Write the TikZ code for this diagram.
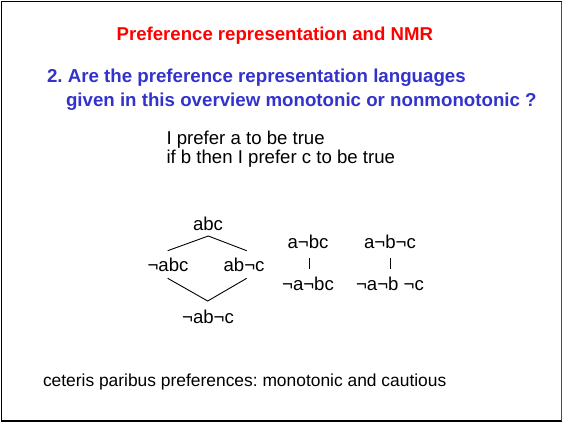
\documentclass[tikz,border=0pt]{standalone}
\usepackage{fontspec}
\setmainfont{Liberation Sans}
\frenchspacing
\definecolor{titlered}{RGB}{255,0,0}
\definecolor{qblue}{RGB}{51,51,204}
\begin{document}
\begin{tikzpicture}[x=1pt,y=-1pt,
  every node/.style={inner sep=0pt,outer sep=0pt},
  titletxt/.style={font=\fontsize{18.6}{22}\selectfont\bfseries,text=titlered},
  qtxt/.style={font=\fontsize{18.7}{22}\selectfont\bfseries,text=qblue},
  bodytxt/.style={font=\fontsize{18.6}{22}\selectfont},
  foottxt/.style={font=\fontsize{17.4}{21}\selectfont},
  edge/.style={line width=0.9pt}]
\useasboundingbox (0,0) rectangle (563,424);
\fill[white] (0,0) rectangle (563,424);
\draw[line width=1.6pt,line join=miter] (561.5,421) -- (1.5,421) -- (1.5,1.5) -- (561.5,1.5);
\draw[line width=1.2pt,black!70] (561.8,1.5) -- (561.8,421);
% title
\node[titletxt,anchor=base west] (title) at (116.7,40.7) {Preference representation and NMR};
% question
\node[qtxt,anchor=base west] (q1) at (47,82.8) {2. Are the preference representation languages};
\node[qtxt,anchor=base west] (q2) at (66,106) {given in this overview monotonic or nonmonotonic ?};
% example
\node[bodytxt,anchor=base west] (e1) at (166.5,144) {I prefer a to be true};
\node[bodytxt,anchor=base west] (e2) at (166.5,163.3) {if b then I prefer c to be true};
% diamond
\node[bodytxt,anchor=base] (abc) at (208,230) {abc};
\node[bodytxt,anchor=base] (nabc) at (168,271.5) {¬abc};
\node[bodytxt,anchor=base] (abnc) at (244,271.5) {ab¬c};
\node[bodytxt,anchor=base] (nabnc) at (208,323) {¬ab¬c};
\coordinate (u1) at (167.7,250.7);
\coordinate (u2) at (208.3,236);
\coordinate (u3) at (246.7,250.7);
\coordinate (l1) at (167.7,278.3);
\coordinate (l2) at (207.7,301);
\coordinate (l3) at (246.7,278.3);
\draw[edge] (u1) -- (u2) -- (u3);
\draw[edge] (l1) -- (l2) -- (l3);
% pairs
\node[bodytxt,anchor=base] (anbc) at (308,248) {a¬bc};
\node[bodytxt,anchor=base] (nanbc) at (308,290) {¬a¬bc};
\node[bodytxt,anchor=base] (anbnc) at (390,248) {a¬b¬c};
\node[bodytxt,anchor=base] (nanbnc) at (390,290) {¬a¬b ¬c};
\coordinate (p1t) at (309,258);
\coordinate (p1b) at (309,268.5);
\coordinate (p2t) at (390,258);
\coordinate (p2b) at (390,268.5);
\draw[edge] (p1t) -- (p1b);
\draw[edge] (p2t) -- (p2b);
% footer
\node[foottxt,anchor=base west] (foot) at (43,386.5) {ceteris paribus preferences: monotonic and cautious};
\end{tikzpicture}
\end{document}
